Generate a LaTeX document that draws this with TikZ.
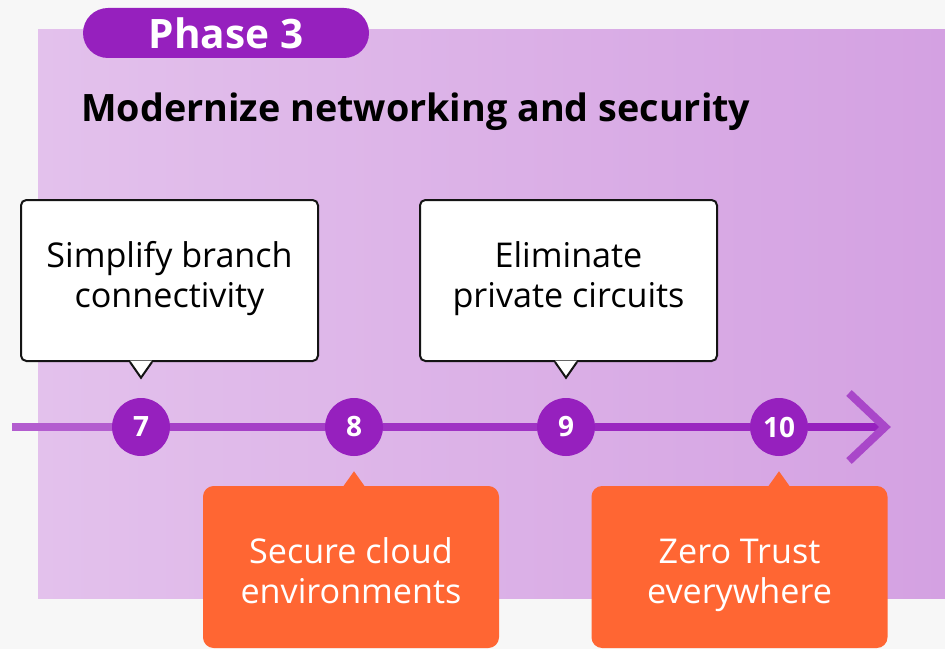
\documentclass[tikz,border=0pt]{standalone}
\usepackage{fontspec}
\setmainfont{Open Sans}
\usetikzlibrary{positioning,calc,backgrounds}
\definecolor{phasepurple}{RGB}{150,32,190}
\definecolor{bgleft}{RGB}{227,193,236}
\definecolor{bgright}{RGB}{212,161,226}
\definecolor{steporange}{RGB}{255,102,51}
\definecolor{pagegray}{RGB}{247,247,247}
\definecolor{inkline}{RGB}{20,20,20}
\tikzset{
  pill/.style={fill=phasepurple, rounded corners=18.75pt, minimum width=214.5pt, minimum height=37.5pt, text=white, font=\bfseries\fontsize{30.4}{34}\selectfont},
  numdot/.style={circle, fill=phasepurple, minimum size=43.5pt, inner sep=0pt, text=white, font=\bfseries\fontsize{21}{24}\selectfont},
  notebox/.style={draw=inkline, line width=1.5pt, fill=white, rounded corners=4pt, minimum width=222.75pt, minimum height=120.75pt},
  notetext/.style={align=center, font=\fontsize{25.6}{30}\selectfont},
  goalbox/.style={fill=steporange, rounded corners=8pt, minimum width=222pt, minimum height=121.5pt},
  goaltext/.style={align=center, text=white, font=\fontsize{25.6}{30}\selectfont},
  timeline/.style={line width=6pt},
}

\begin{document}
\begin{tikzpicture}[x=0.75pt,y=-0.75pt]
  \useasboundingbox (0,0) rectangle (945,649);
  \node[pill] (phase) at (226,33) {Phase 3};
  \node[anchor=base west, inner sep=0pt, font=\bfseries\fontsize{28.3}{32}\selectfont] (title) at (81,122) {Modernize networking and security};

  % timeline
  \coordinate (start) at (12,427);
  \coordinate (stop) at (885,427);
  \node[numdot] (n7) at (141,427) {7};
  \node[numdot] (n8) at (354,427) {8};
  \node[numdot] (n9) at (566,427) {9};
  \node[numdot] (n10) at (779,427) {10};
  \begin{scope}[on background layer]
    \fill[pagegray] (0,0) rectangle (945,649);
    \shade[left color=bgleft, right color=bgright] (38,30) rectangle (945,598);
    \foreach \a/\b/\c in {start/n7/62, n7/n8/80, n8/n9/88, n9/n10/95, n10/stop/100}
      \draw[timeline, draw=phasepurple!\c!bgleft] (\a) -- (\b);
    \draw[timeline, draw=phasepurple!70!bgright, line join=miter] ($(stop)+(-36,-34)$) -- (stop) -- ($(stop)+(-36,34)$);
  \end{scope}

  % callouts above
  \node[notebox] (b7) at (169.5,280.5) {};
  \node[notebox] (b9) at (568.5,280.5) {};
  \node[notetext] (s7) at ($(b7)+(0,-1)$) {\strut Simplify branch\\\strut connectivity};
  \node[notetext] (s9) at ($(b9)+(0,-1)$) {\strut Eliminate\\\strut private circuits};
  \foreach \n/\b in {n7/b7, n9/b9} {
    \coordinate (t\n) at ($(\n.north)+(0,-20)$);
    \path (\b.south -| \n) coordinate (p\n);
    \fill[white] ($(p\n)+(-11,-1.5)$) -- (t\n) -- ($(p\n)+(11,-1.5)$) -- cycle;
    \draw[inkline, line width=1.5pt] ($(p\n)+(-11,0)$) -- (t\n) -- ($(p\n)+(11,0)$);
  }

  % callouts below
  \node[goalbox] (b8) at (351,567) {};
  \node[goalbox] (b10) at (739.5,567) {};
  \node[goaltext] (s8) at ($(b8)+(0,8)$) {\strut Secure cloud\\\strut environments};
  \node[goaltext] (s10) at ($(b10)+(0,8)$) {\strut Zero Trust\\\strut everywhere};
  \foreach \n/\b in {n8/b8, n10/b10} {
    \coordinate (t\n) at ($(\n.south)+(0,15)$);
    \path (\b.north -| \n) coordinate (p\n);
    \fill[steporange] ($(p\n)+(-11,1)$) -- (t\n) -- ($(p\n)+(11,1)$) -- cycle;
  }
\end{tikzpicture}
\end{document}
